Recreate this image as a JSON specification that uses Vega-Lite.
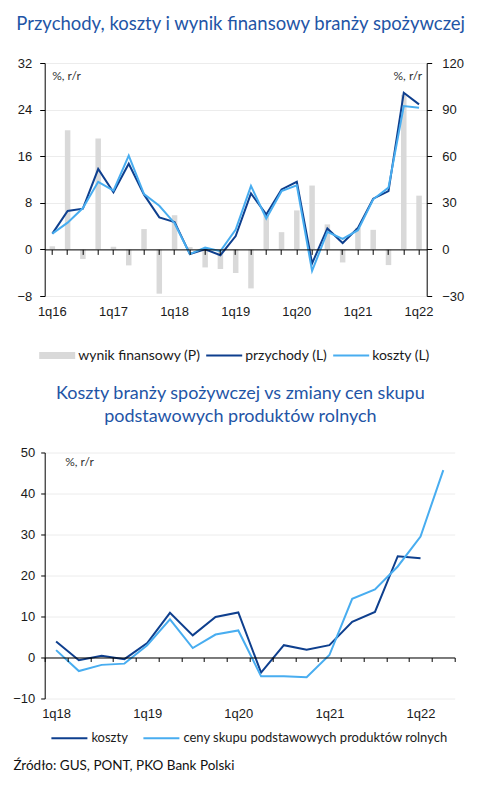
{
  "$schema": "https://vega.github.io/schema/vega-lite/v6.json",
  "background": "white",
  "padding": {"left": 11.7, "top": 14, "right": 5, "bottom": 5},
  "bounds": "flush",
  "spacing": 156.5,
  "resolve": {"scale": {"color": "independent"}, "legend": {"color": "independent"}},
  "config": {
    "view": {"stroke": null},
    "axis": {"labelFont": "Liberation Sans", "labelFontSize": 13, "labelColor": "#1a1a1a", "domainColor": "#000000", "tickColor": "#000000", "gridColor": "#ececec", "titleFont": "Lato", "titleFontSize": 12, "titleFontWeight": "normal", "titleColor": "#333333"},
    "legend": {"labelFont": "Lato", "labelFontSize": 13, "labelColor": "#1a1a1a", "padding": 0, "labelLimit": 400}
  },
  "datasets": {
    "top": [
      {"q":"1q16","s":"wynik finansowy (P)","v":2},{"q":"1q16","s":"przychody (L)","v":2.7},{"q":"1q16","s":"koszty (L)","v":2.7},
      {"q":"2q16","s":"wynik finansowy (P)","v":76.7},{"q":"2q16","s":"przychody (L)","v":6.6},{"q":"2q16","s":"koszty (L)","v":4.6},
      {"q":"3q16","s":"wynik finansowy (P)","v":-6.2},{"q":"3q16","s":"przychody (L)","v":7.0},{"q":"3q16","s":"koszty (L)","v":7.1},
      {"q":"4q16","s":"wynik finansowy (P)","v":71.4},{"q":"4q16","s":"przychody (L)","v":13.8},{"q":"4q16","s":"koszty (L)","v":11.6},
      {"q":"1q17","s":"wynik finansowy (P)","v":1.7},{"q":"1q17","s":"przychody (L)","v":9.8},{"q":"1q17","s":"koszty (L)","v":10.1},
      {"q":"2q17","s":"wynik finansowy (P)","v":-10.3},{"q":"2q17","s":"przychody (L)","v":14.7},{"q":"2q17","s":"koszty (L)","v":16.1},
      {"q":"3q17","s":"wynik finansowy (P)","v":13.1},{"q":"3q17","s":"przychody (L)","v":9.4},{"q":"3q17","s":"koszty (L)","v":9.5},
      {"q":"4q17","s":"wynik finansowy (P)","v":-28.5},{"q":"4q17","s":"przychody (L)","v":5.5},{"q":"4q17","s":"koszty (L)","v":7.5},
      {"q":"1q18","s":"wynik finansowy (P)","v":22},{"q":"1q18","s":"przychody (L)","v":4.7},{"q":"1q18","s":"koszty (L)","v":4.5},
      {"q":"2q18","s":"wynik finansowy (P)","v":1.5},{"q":"2q18","s":"przychody (L)","v":-0.8},{"q":"2q18","s":"koszty (L)","v":-0.8},
      {"q":"3q18","s":"wynik finansowy (P)","v":-11.6},{"q":"3q18","s":"przychody (L)","v":0},{"q":"3q18","s":"koszty (L)","v":0.3},
      {"q":"4q18","s":"wynik finansowy (P)","v":-12.6},{"q":"4q18","s":"przychody (L)","v":-1.0},{"q":"4q18","s":"koszty (L)","v":-0.3},
      {"q":"1q19","s":"wynik finansowy (P)","v":-15.2},{"q":"1q19","s":"przychody (L)","v":2.3},{"q":"1q19","s":"koszty (L)","v":3.4},
      {"q":"2q19","s":"wynik finansowy (P)","v":-25.1},{"q":"2q19","s":"przychody (L)","v":9.6},{"q":"2q19","s":"koszty (L)","v":10.9},
      {"q":"3q19","s":"wynik finansowy (P)","v":22},{"q":"3q19","s":"przychody (L)","v":6.0},{"q":"3q19","s":"koszty (L)","v":5.3},
      {"q":"4q19","s":"wynik finansowy (P)","v":11.1},{"q":"4q19","s":"przychody (L)","v":10.3},{"q":"4q19","s":"koszty (L)","v":10.0},
      {"q":"1q20","s":"wynik finansowy (P)","v":25.1},{"q":"1q20","s":"przychody (L)","v":11.6},{"q":"1q20","s":"koszty (L)","v":11.0},
      {"q":"2q20","s":"wynik finansowy (P)","v":41.1},{"q":"2q20","s":"przychody (L)","v":-2.4},{"q":"2q20","s":"koszty (L)","v":-3.7},
      {"q":"3q20","s":"wynik finansowy (P)","v":16.1},{"q":"3q20","s":"przychody (L)","v":3.6},{"q":"3q20","s":"koszty (L)","v":3.0},
      {"q":"4q20","s":"wynik finansowy (P)","v":-8.4},{"q":"4q20","s":"przychody (L)","v":1.1},{"q":"4q20","s":"koszty (L)","v":1.8},
      {"q":"1q21","s":"wynik finansowy (P)","v":13.9},{"q":"1q21","s":"przychody (L)","v":3.7},{"q":"1q21","s":"koszty (L)","v":3.3},
      {"q":"2q21","s":"wynik finansowy (P)","v":12.6},{"q":"2q21","s":"przychody (L)","v":8.7},{"q":"2q21","s":"koszty (L)","v":8.6},
      {"q":"3q21","s":"wynik finansowy (P)","v":-10.1},{"q":"3q21","s":"przychody (L)","v":10.0},{"q":"3q21","s":"koszty (L)","v":10.6},
      {"q":"4q21","s":"wynik finansowy (P)","v":99.5},{"q":"4q21","s":"przychody (L)","v":26.9},{"q":"4q21","s":"koszty (L)","v":24.6},
      {"q":"1q22","s":"wynik finansowy (P)","v":34.6},{"q":"1q22","s":"przychody (L)","v":24.9},{"q":"1q22","s":"koszty (L)","v":24.3}
    ],
    "bottom": [
      {"q":"1q18","s":"koszty","v":3.9},{"q":"1q18","s":"ceny skupu podstawowych produktów rolnych","v":1.8},
      {"q":"2q18","s":"koszty","v":-0.65},{"q":"2q18","s":"ceny skupu podstawowych produktów rolnych","v":-3.3},
      {"q":"3q18","s":"koszty","v":0.4},{"q":"3q18","s":"ceny skupu podstawowych produktów rolnych","v":-1.8},
      {"q":"4q18","s":"koszty","v":-0.4},{"q":"4q18","s":"ceny skupu podstawowych produktów rolnych","v":-1.5},
      {"q":"1q19","s":"koszty","v":3.5},{"q":"1q19","s":"ceny skupu podstawowych produktów rolnych","v":3.0},
      {"q":"2q19","s":"koszty","v":10.9},{"q":"2q19","s":"ceny skupu podstawowych produktów rolnych","v":9.3},
      {"q":"3q19","s":"koszty","v":5.4},{"q":"3q19","s":"ceny skupu podstawowych produktów rolnych","v":2.3},
      {"q":"4q19","s":"koszty","v":9.9},{"q":"4q19","s":"ceny skupu podstawowych produktów rolnych","v":5.6},
      {"q":"1q20","s":"koszty","v":11.0},{"q":"1q20","s":"ceny skupu podstawowych produktów rolnych","v":6.6},
      {"q":"2q20","s":"koszty","v":-3.7},{"q":"2q20","s":"ceny skupu podstawowych produktów rolnych","v":-4.6},
      {"q":"3q20","s":"koszty","v":3.0},{"q":"3q20","s":"ceny skupu podstawowych produktów rolnych","v":-4.6},
      {"q":"4q20","s":"koszty","v":1.9},{"q":"4q20","s":"ceny skupu podstawowych produktów rolnych","v":-4.8},
      {"q":"1q21","s":"koszty","v":3.0},{"q":"1q21","s":"ceny skupu podstawowych produktów rolnych","v":0.6},
      {"q":"2q21","s":"koszty","v":8.7},{"q":"2q21","s":"ceny skupu podstawowych produktów rolnych","v":14.3},
      {"q":"3q21","s":"koszty","v":11.1},{"q":"3q21","s":"ceny skupu podstawowych produktów rolnych","v":16.6},
      {"q":"4q21","s":"koszty","v":24.7},{"q":"4q21","s":"ceny skupu podstawowych produktów rolnych","v":22.2},
      {"q":"1q22","s":"koszty","v":24.2},{"q":"1q22","s":"ceny skupu podstawowych produktów rolnych","v":29.5},
      {"q":"2q22","s":"ceny skupu podstawowych produktów rolnych","v":45.7}
    ]
  },
  "title": {"text": "Źródło: GUS, PONT, PKO Bank Polski", "orient": "bottom", "anchor": "start", "frame": "group", "font": "Lato", "fontSize": 13.5, "fontWeight": "normal", "color": "#111111", "offset": 13, "dx": -31.3},
  "vconcat": [
    {
      "width": 382,
      "height": 233,
      "title": {"text": "Przychody, koszty i wynik finansowy branży spożywczej", "anchor": "middle", "frame": "group", "font": "Lato", "fontSize": 18.5, "fontWeight": "normal", "color": "#1f55a6", "offset": 24, "dx": 5},
      "data": {"name": "top"},
      "layer": [
        {
          "transform": [{"filter": "datum.s == 'wynik finansowy (P)'"}],
          "mark": {"type": "bar", "width": 5.5, "color": "#d9d9d9"},
          "encoding": {
            "x": {"field": "q", "type": "ordinal",
              "scale": {"type": "band", "domain": ["1q16","2q16","3q16","4q16","1q17","2q17","3q17","4q17","1q18","2q18","3q18","4q18","1q19","2q19","3q19","4q19","1q20","2q20","3q20","4q20","1q21","2q21","3q21","4q21","1q22"], "paddingInner": 0, "paddingOuter": 0},
              "axis": {"orient": "bottom", "offset": -46.6, "tickSize": 5, "labelPadding": 51, "labelAngle": 0, "labelOverlap": false, "labelExpr": "substring(datum.label,0,2) == '1q' ? datum.label : ''", "title": null, "grid": false, "zindex": 1}},
            "y": {"field": "v", "type": "quantitative", "scale": {"domain": [-30, 120], "nice": false},
              "axis": {"orient": "right", "values": [-30, 0, 30, 60, 90, 120], "grid": false, "tickSize": 5, "labelPadding": 10, "title": "%, r/r", "titleAngle": 0, "titleX": -5, "titleY": 12, "titleAlign": "right", "titleBaseline": "middle"}}
          }
        },
        {
          "transform": [{"filter": "datum.s != 'wynik finansowy (P)'"}],
          "mark": {"type": "line", "strokeWidth": 2},
          "encoding": {
            "x": {"field": "q", "type": "ordinal", "scale": {"type": "band"}},
            "y": {"field": "v", "type": "quantitative", "scale": {"domain": [-8, 32], "nice": false},
              "axis": {"orient": "left", "values": [-8, 0, 8, 16, 24, 32], "grid": true, "tickSize": 5, "labelPadding": 8, "title": "%, r/r", "titleAngle": 0, "titleX": 7, "titleY": 12, "titleAlign": "left", "titleBaseline": "middle"}},
            "color": {"field": "s", "type": "nominal",
              "scale": {"domain": ["wynik finansowy (P)", "przychody (L)", "koszty (L)"], "range": ["#d9d9d9", "#0e3f8e", "#48adf0"]},
              "legend": {"orient": "none", "legendX": -6.5, "legendY": 284, "direction": "horizontal", "title": null, "symbolType": "stroke", "symbolSize": 1296, "symbolStrokeWidth": 2, "labelOffset": 2, "labelFontSize": 14, "columnPadding": 4, "clipHeight": 17,
                "encode": {"symbols": {"update": {"strokeWidth": {"signal": "(datum.value == 'wynik finansowy (P)' ? 7 : 2)"}}}}}}
          }
        }
      ],
      "resolve": {"scale": {"y": "independent"}}
    },
    {
      "width": 410,
      "height": 246,
      "title": {"text": ["Koszty branży spożywczej vs zmiany cen skupu", "podstawowych produktów rolnych"], "anchor": "middle", "frame": "group", "font": "Lato", "fontSize": 18, "fontWeight": "normal", "lineHeight": 23, "color": "#1f55a6", "offset": 20, "dx": -9.3},
      "data": {"name": "bottom"},
      "mark": {"type": "line", "strokeWidth": 2},
      "encoding": {
        "x": {"field": "q", "type": "ordinal",
          "scale": {"type": "band", "domain": ["1q18","2q18","3q18","4q18","1q19","2q19","3q19","4q19","1q20","2q20","3q20","4q20","1q21","2q21","3q21","4q21","1q22","2q22"], "paddingInner": 0, "paddingOuter": 0},
          "axis": {"orient": "bottom", "offset": -41, "tickBand": "extent", "tickSize": 4, "labelPadding": 46, "labelAngle": 0, "labelOverlap": false, "labelExpr": "substring(datum.label,0,2) == '1q' ? datum.label : ''", "title": null, "grid": false, "zindex": 1}},
        "y": {"field": "v", "type": "quantitative", "scale": {"domain": [-10, 50], "nice": false},
          "axis": {"values": [-10, 0, 10, 20, 30, 40, 50], "grid": true, "tickSize": 4, "labelPadding": 6, "title": "%, r/r", "titleAngle": 0, "titleX": 20, "titleY": 9, "titleAlign": "left", "titleBaseline": "middle"}},
        "color": {"field": "s", "type": "nominal",
          "scale": {"domain": ["koszty", "ceny skupu podstawowych produktów rolnych"], "range": ["#0e3f8e", "#48adf0"]},
          "legend": {"orient": "none", "legendX": 5.7, "legendY": 277.7, "direction": "horizontal", "title": null, "symbolType": "stroke", "symbolSize": 1296, "symbolStrokeWidth": 2, "labelOffset": 3, "columnPadding": 14, "clipHeight": 16}}
      }
    }
  ]
}
